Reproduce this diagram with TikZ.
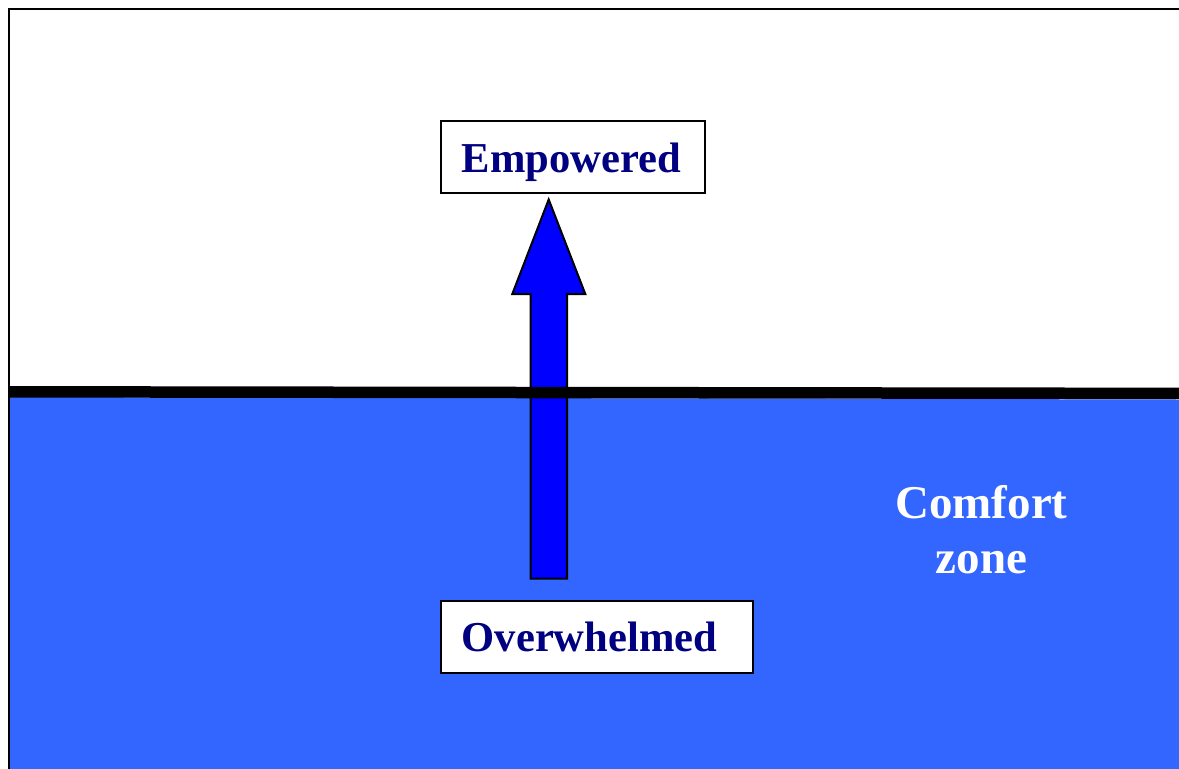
\documentclass[tikz,border=0pt]{standalone}
\usepackage{fontspec}
\setmainfont{Liberation Serif}
\definecolor{zoneblue}{HTML}{3366FF}
\definecolor{arrowblue}{HTML}{0000FF}
\definecolor{navytext}{HTML}{000080}
\tikzset{
  statebox/.style={draw=black, line width=2pt, fill=white, rectangle, inner sep=0pt},
  statetext/.style={anchor=base west, inner sep=0pt, text=navytext, font=\fontsize{42.6}{50}\selectfont\bfseries},
  zonetext/.style={align=center, inner sep=0pt, text=white, font=\fontsize{47}{55}\selectfont\bfseries},
  bigarrow/.style={draw=black, line width=2pt, fill=arrowblue, line join=miter},
}
\begin{document}
\begin{tikzpicture}[x=1pt,y=-1pt]
\useasboundingbox (0,0) rectangle (1179,769);
\clip (0,0) rectangle (1179,769);
% comfort zone area
\fill[zoneblue] (10,397) -- (1179,399.5) -- (1179,769) -- (10,769) -- cycle;
% frame
\draw[line width=2pt] (9,800) -- (9,9) -- (1200,9);
% boxes
\node[statebox, minimum width=264.6pt, minimum height=72.3pt] (emp) at (573,157) {};
\node[statebox, minimum width=312.6pt, minimum height=72pt] (ovw) at (597,636.7) {};
\node[statetext] (emptxt) at (461.5,172.7) {Empowered};
\node[statetext] (ovwtxt) at (461.5,651.7) {Overwhelmed};
% arrow
\coordinate (tip) at (548.7,199.5);
\draw[bigarrow] (tip) -- (585.3,294) -- (567,294) -- (567,578.5) -- (530.7,578.5) -- (530.7,294) -- (512.3,294) -- cycle;
% boundary line
\draw[line width=11.5pt] (9,391.8) -- (1179,393.4);
% zone label
\node[zonetext] (zone) at (981.5,529.5) {Comfort\\zone};
\end{tikzpicture}
\end{document}
